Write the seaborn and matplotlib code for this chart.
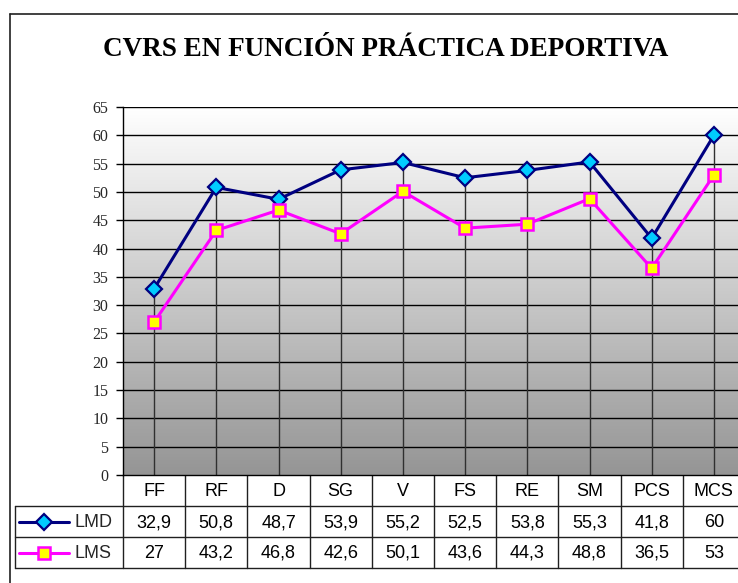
import numpy as np
import pandas as pd
import matplotlib
matplotlib.use("Agg")
import matplotlib.pyplot as plt
from matplotlib.lines import Line2D
from matplotlib.colors import LinearSegmentedColormap
import seaborn as sns

categories = ["FF", "RF", "D", "SG", "V", "FS", "RE", "SM", "PCS", "MCS"]
lmd = [32.9, 50.8, 48.7, 53.9, 55.2, 52.5, 53.8, 55.3, 41.8, 60]
lms = [27, 43.2, 46.8, 42.6, 50.1, 43.6, 44.3, 48.8, 36.5, 53]
lmd_labels = ["32,9", "50,8", "48,7", "53,9", "55,2", "52,5", "53,8", "55,3", "41,8", "60"]
lms_labels = ["27", "43,2", "46,8", "42,6", "50,1", "43,6", "44,3", "48,8", "36,5", "53"]
series_names = ["LMD", "LMS"]
yticks = list(range(0, 66, 5))
title = "CVRS EN FUNCIÓN PRÁCTICA DEPORTIVA"

sns.set_theme(style="white")
plt.rcParams['font.family'] = ['Liberation Serif', 'DejaVu Serif']

W, H = 738, 583
fig = plt.figure(figsize=(W / 100, H / 100), dpi=100)
fig.patch.set_facecolor("white")

# overlay axes in pixel coordinates (frame + table)
ov = fig.add_axes([0, 0, 1, 1], zorder=0)
ov.set_xlim(0, W)
ov.set_ylim(H, 0)
ov.axis("off")
ov.patch.set_alpha(0)

PL, PR, PT, PB = 123, 745, 107, 475
ax = fig.add_axes([PL / W, 1 - PB / H, (PR - PL) / W, (PB - PT) / H], zorder=1)

n = len(categories)
pos = np.arange(n)
df = pd.DataFrame({"pos": pos, "LMD": lmd, "LMS": lms})

# gradient background
grad = np.linspace(1.0, 0.0, 256).reshape(-1, 1)
cmap = LinearSegmentedColormap.from_list("g", ["#959595", "#ffffff"])
ax.imshow(grad, extent=[-0.5, n - 0.5, 0, 65], aspect="auto", cmap=cmap,
          origin="upper", zorder=0, interpolation="bilinear")

for yv in yticks[1:]:
    ax.axhline(yv, color="black", lw=1.0, zorder=1)
ax.vlines(pos, 0, np.maximum(lmd, lms), color="#303030", lw=1.0, zorder=1)

sns.lineplot(data=df, x="pos", y="LMD", ax=ax, color="#000080", lw=2.2,
             marker="D", markersize=8.5, markerfacecolor="#00CCFF",
             markeredgecolor="#000080", markeredgewidth=1.6, zorder=3)
sns.lineplot(data=df, x="pos", y="LMS", ax=ax, color="#FF00FF", lw=2.2,
             marker="s", markersize=8, markerfacecolor="#FFFF00",
             markeredgecolor="#FF00FF", markeredgewidth=1.8, zorder=3)

ax.set_xlim(-0.5, n - 0.5)
ax.set_ylim(0, 65)
ax.set_yticks(yticks)
ax.set_yticklabels([str(t) for t in yticks], fontsize=11.5, family="Liberation Serif")
ax.set_xticks([])
ax.set_xlabel("")
ax.set_ylabel("")
ax.tick_params(axis="y", left=True, length=5, width=1, color="black", pad=5.5,
               direction="out")
for s in ["right", "top"]:
    ax.spines[s].set_visible(False)
for s in ["left", "bottom"]:
    ax.spines[s].set_color("black")
    ax.spines[s].set_linewidth(1.0)

# outer frame
ov.plot([10, 10], [14, H + 5], color="#202020", lw=1.2)
ov.plot([10, W + 5], [14, 14], color="#202020", lw=1.2)

# title
ov.text(386, 50, title, ha="center", va="center", fontsize=19.5, fontweight="bold",
        family="Liberation Serif", color="black")

# table
cw = (PR - PL) / n
rows = [475, 506, 537, 568]
TL = 15
lc = "#202020"
for i in range(n + 1):
    xx = PL + i * cw
    ov.plot([xx, xx], [rows[0], rows[3]], color=lc, lw=1)
ov.plot([TL, PR], [rows[1], rows[1]], color=lc, lw=1)
ov.plot([TL, PR], [rows[2], rows[2]], color=lc, lw=1)
ov.plot([TL, PR], [rows[3], rows[3]], color=lc, lw=1)
ov.plot([TL, TL], [rows[1], rows[3]], color=lc, lw=1)

tf = dict(fontsize=13, family="Liberation Sans", color="black", ha="center", va="center")
for i, c in enumerate(categories):
    ov.text(PL + (i + 0.5) * cw, (rows[0] + rows[1]) / 2 + 1, c, **tf)
for i, v in enumerate(lmd_labels):
    ov.text(PL + (i + 0.5) * cw, (rows[1] + rows[2]) / 2 + 1, v, **tf)
for i, v in enumerate(lms_labels):
    ov.text(PL + (i + 0.5) * cw, (rows[2] + rows[3]) / 2 + 1, v, **tf)

# legend keys
ym1 = (rows[1] + rows[2]) / 2
ym2 = (rows[2] + rows[3]) / 2
ov.add_line(Line2D([19, 69], [ym1, ym1], color="#000080", lw=2.2))
ov.add_line(Line2D([44], [ym1], marker="D", markersize=8.5, markerfacecolor="#00CCFF",
                   markeredgecolor="#000080", markeredgewidth=1.6, ls="none"))
ov.add_line(Line2D([19, 69], [ym2, ym2], color="#FF00FF", lw=2.2))
ov.add_line(Line2D([44], [ym2], marker="s", markersize=8, markerfacecolor="#FFFF00",
                   markeredgecolor="#FF00FF", markeredgewidth=1.8, ls="none"))
ov.text(75, ym1 + 1, series_names[0], fontsize=13, family="Liberation Sans",
        ha="left", va="center")
ov.text(75, ym2 + 1, series_names[1], fontsize=13, family="Liberation Sans",
        ha="left", va="center")

fig.savefig("out.png", dpi=100)
